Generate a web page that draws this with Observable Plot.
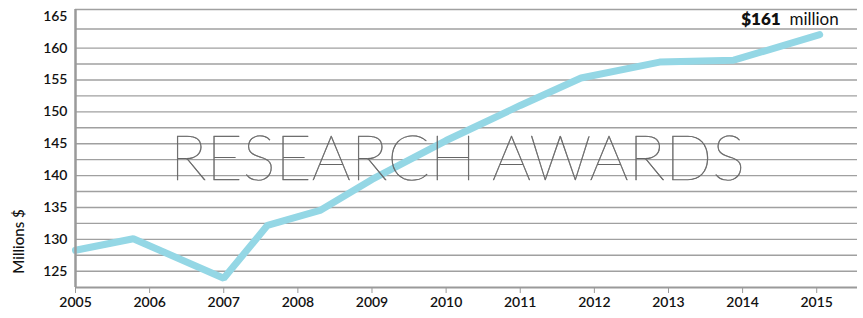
<!DOCTYPE html>
<html>
<head>
<meta charset="utf-8">
<script src="https://cdn.jsdelivr.net/npm/d3@7"></script>
<script src="https://cdn.jsdelivr.net/npm/@observablehq/plot@0.6"></script>
<style>
  html, body { margin: 0; padding: 0; background: #fff; }
  #chart svg { display: block; }
</style>
</head>
<body>
<div id="chart"></div>
<script>
// Data
const years  = [2005, 2005.78, 2007, 2007.59, 2008.31, 2009, 2010, 2011, 2011.82, 2012.88, 2013.88, 2015.04];
const awards = [128.3, 130.1, 123.9, 132.2, 134.6, 139.4, 145.5, 151.0, 155.3, 157.8, 158.1, 162.1];
const xTicks = [2005, 2006, 2007, 2008, 2009, 2010, 2011, 2012, 2013, 2014, 2015];
const yTicks = [125, 130, 135, 140, 145, 150, 155, 160, 165];
const gridValues = [125, 127.5, 130, 132.5, 135, 137.5, 140, 142.5, 145, 147.5, 150, 152.5, 155, 157.5, 160, 163, 166.05];
const titleText = "RESEARCH AWARDS";
const yLabel = "Millions $";
const endValueLabel = "$161";
const endUnitLabel = "million";

const data = years.map((x, i) => ({year: x, value: awards[i]}));
const last = data[data.length - 1];

const font = "Lato, 'Open Sans', sans-serif";

const plot = Plot.plot({
  width: 863,
  height: 318,
  marginLeft: 75,
  marginRight: 6,
  marginTop: 9,
  marginBottom: 31,
  style: {fontFamily: font, fontSize: "14px", color: "#222", background: "#fff"},
  x: {domain: [2005, 2015.55]},
  y: {domain: [122.45, 166.05]},
  marks: [
    Plot.ruleY(gridValues, {stroke: "#a0a0a0", strokeWidth: 1.4}),
    Plot.line(data, {x: "year", y: "value", stroke: "#94d7e5", strokeWidth: 7, strokeLinecap: "round", strokeLinejoin: "miter"}),
    Plot.text([titleText], {frameAnchor: "middle", dx: -9, dy: 12, fontSize: 62, fontWeight: 100, fill: "#666", stroke: "#666", strokeWidth: 0.45, lineAnchor: "middle", fontFamily: font}),
    Plot.ruleX([2005], {stroke: "#9a9a9a", strokeWidth: 2.5}),
    Plot.ruleY([122.45], {stroke: "#9a9a9a", strokeWidth: 1.8}),
    Plot.axisX({ticks: xTicks, tickFormat: d => String(d), tickSize: 6, tickPadding: 4, stroke: "#9a9a9a", fill: "#111", fontSize: 14, fontWeight: 600, label: null}),
    Plot.axisY({ticks: yTicks, tickSize: 0, tickPadding: 8, fill: "#111", fontSize: 14, fontWeight: 600, label: null}),
    Plot.text([yLabel], {frameAnchor: "left", textAnchor: "middle", dx: -56, dy: 93, rotate: -90, fontSize: 15, fill: "#111", fontWeight: 500}),
    Plot.text([last], {x: "year", y: "value", text: () => endUnitLabel, textAnchor: "end", dx: 19, dy: -15, fontSize: 17, fill: "#111"}),
    Plot.text([last], {x: "year", y: "value", text: () => endValueLabel, textAnchor: "end", dx: -39, dy: -15, fontSize: 17, fontWeight: 800, fill: "#111"})
  ]
});

d3.select(plot).selectAll("text").filter(function() { return this.textContent === titleText; })
  .attr("textLength", 575).attr("lengthAdjust", "spacing");

document.getElementById("chart").appendChild(plot);
</script>
</body>
</html>
